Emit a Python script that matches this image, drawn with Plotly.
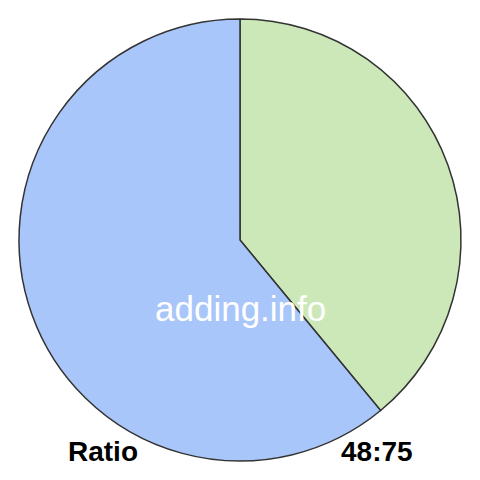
import plotly.graph_objects as go

labels = ['48', '75']
values = [48, 75]
colors = ['#cde8b8', '#a9c6fb']
watermark = 'adding.info'
left_label = 'Ratio'
right_label = '48:75'

fig = go.Figure(go.Pie(
    labels=labels,
    values=values,
    sort=False,
    direction='clockwise',
    rotation=0,
    marker=dict(colors=colors, line=dict(color='#333333', width=1.5)),
    textinfo='none',
    hoverinfo='none',
    showlegend=False,
    domain=dict(x=[19/480, 461/480], y=[19/480, 461/480]),
))

fig.update_layout(
    width=480, height=480,
    margin=dict(l=0, r=0, t=0, b=0),
    paper_bgcolor='white',
    font=dict(family='Liberation Sans, Arial, sans-serif'),
    annotations=[
        dict(text=watermark, x=240/480, y=1 - 308/480, xref='paper', yref='paper',
             xanchor='center', yanchor='middle',
             showarrow=False, font=dict(size=35, color='white')),
        dict(text='<b>%s</b>' % left_label, x=103/480, y=1 - 451/480, xref='paper', yref='paper',
             xanchor='center', yanchor='middle',
             showarrow=False, font=dict(size=28, color='black')),
        dict(text='<b>%s</b>' % right_label, x=377/480, y=1 - 451/480, xref='paper', yref='paper',
             xanchor='center', yanchor='middle',
             showarrow=False, font=dict(size=28, color='black')),
    ],
)

# no modebar, and no default page margin
fig.write_html('out.html', config={'displayModeBar': False},
               post_script="document.body.style.margin='0';")
